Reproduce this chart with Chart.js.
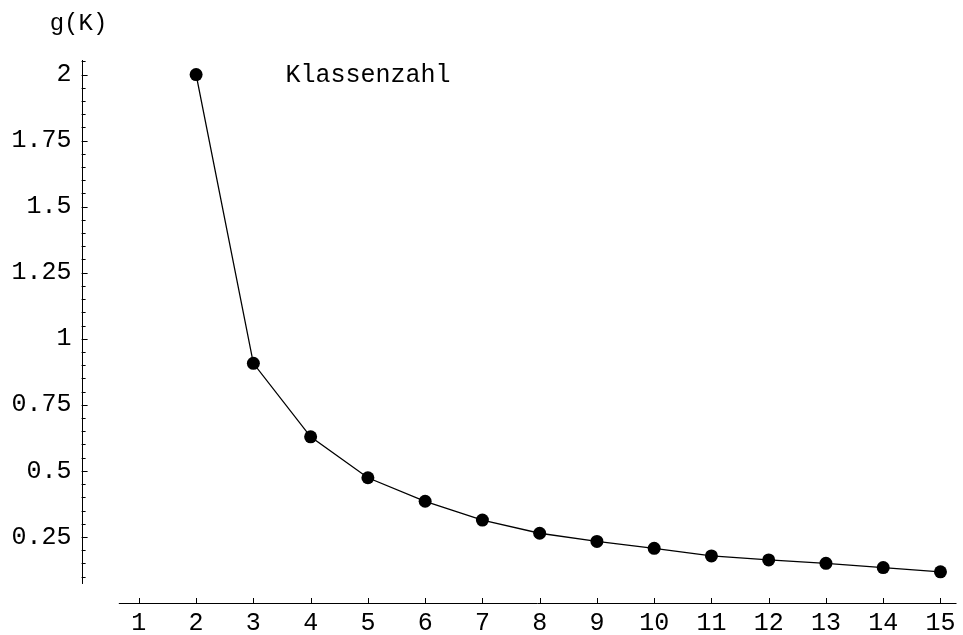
<!DOCTYPE html>
<html>
<head>
<meta charset="utf-8">
<script src="https://cdn.jsdelivr.net/npm/chart.js@4/dist/chart.umd.min.js"></script>
<style>
    html, body { margin: 0; padding: 0; background: #fff; }
    #wrap { width: 963px; height: 635px; position: relative; }
</style>
</head>
<body>
<div id="wrap"><canvas id="chart"></canvas></div>
<script>
// Klassenzahl K and g(K)
const kValues = [2, 3, 4, 5, 6, 7, 8, 9, 10, 11, 12, 13, 14, 15];
const gValues = [2.0, 0.907, 0.629, 0.474, 0.385, 0.314, 0.264, 0.233, 0.207, 0.178, 0.163, 0.150, 0.134, 0.118];

const xTicks = [1, 2, 3, 4, 5, 6, 7, 8, 9, 10, 11, 12, 13, 14, 15];
const yTicks = [0.25, 0.5, 0.75, 1, 1.25, 1.5, 1.75, 2];
const yTickLabels = ['0.25', '0.5', '0.75', '1', '1.25', '1.5', '1.75', '2'];

const FONT = '"Liberation Mono", "Courier New", monospace';

// Mathematica-style axes: crossing at origin, drawn only over the plot range
const axesPlugin = {
    id: 'mmaAxes',
    afterDraw(chart) {
        const ctx = chart.ctx;
        const xs = chart.scales.x;
        const ys = chart.scales.y;
        const x0 = xs.getPixelForValue(0);
        const y0 = ys.getPixelForValue(0);

        ctx.save();
        ctx.strokeStyle = '#000';
        ctx.lineWidth = 1;

        // x axis
        ctx.beginPath();
        ctx.moveTo(xs.getPixelForValue(0.65), y0 + 0.5);
        ctx.lineTo(xs.getPixelForValue(15.28), y0 + 0.5);
        ctx.stroke();
        xTicks.forEach(v => {
            const px = Math.round(xs.getPixelForValue(v)) + 0.5;
            ctx.beginPath();
            ctx.moveTo(px, y0);
            ctx.lineTo(px, y0 - 5);
            ctx.stroke();
        });

        // y axis
        ctx.beginPath();
        ctx.moveTo(Math.round(x0) + 0.5, ys.getPixelForValue(0.072));
        ctx.lineTo(Math.round(x0) + 0.5, ys.getPixelForValue(2.055));
        ctx.stroke();
        for (let i = 2; i <= 41; i++) {
            const v = i * 0.05;
            const py = Math.round(ys.getPixelForValue(v)) + 0.5;
            const len = (i % 5 === 0) ? 6 : 4;
            ctx.beginPath();
            ctx.moveTo(x0, py);
            ctx.lineTo(x0 + len, py);
            ctx.stroke();
        }

        // labels
        ctx.fillStyle = '#000';
        ctx.font = '24px ' + FONT;
        ctx.textAlign = 'center';
        ctx.textBaseline = 'alphabetic';
        ctx.fillText('g(K)', 78.5, 30);

        ctx.font = '25px ' + FONT;
        ctx.textBaseline = 'alphabetic';
        ctx.fillText('Klassenzahl', xs.getPixelForValue(5), ys.getPixelForValue(2) + 7.5);
        ctx.restore();
    }
};

const ctx = document.getElementById('chart').getContext('2d');
new Chart(ctx, {
    type: 'line',
    data: {
        datasets: [{
            label: 'g(K)',
            data: kValues.map((k, i) => ({ x: k, y: gValues[i] })),
            borderColor: '#000',
            backgroundColor: '#000',
            borderWidth: 1.3,
            pointRadius: 6.5,
            pointHoverRadius: 6.5,
            pointBorderWidth: 0,
            tension: 0,
            fill: false
        }]
    },
    options: {
        responsive: true,
        maintainAspectRatio: false,
        animation: false,
        devicePixelRatio: 1,
        layout: { padding: { top: 60, right: 0, bottom: 0, left: 0 } },
        plugins: {
            legend: { display: false },
            tooltip: { enabled: false }
        },
        scales: {
            x: {
                type: 'linear',
                position: 'bottom',
                min: 0,
                max: 15.28,
                grid: { display: false, drawTicks: false },
                border: { display: false },
                afterBuildTicks: s => { s.ticks = xTicks.map(v => ({ value: v })); },
                afterFit: s => { s.height = 32; },
                ticks: {
                    autoSkip: false,
                    maxRotation: 0,
                    padding: 5,
                    color: '#000',
                    font: { family: FONT, size: 25 },
                    callback: v => String(v)
                }
            },
            y: {
                type: 'linear',
                position: 'left',
                min: 0,
                max: 2.055,
                grid: { display: false, drawTicks: false },
                border: { display: false },
                afterBuildTicks: s => { s.ticks = yTicks.map(v => ({ value: v })); },
                afterFit: s => { s.width = 81.6; },
                ticks: {
                    autoSkip: false,
                    padding: 10,
                    color: '#000',
                    font: { family: FONT, size: 25 },
                    callback: v => yTickLabels[yTicks.indexOf(v)]
                }
            }
        }
    },
    plugins: [axesPlugin]
});
</script>
</body>
</html>
